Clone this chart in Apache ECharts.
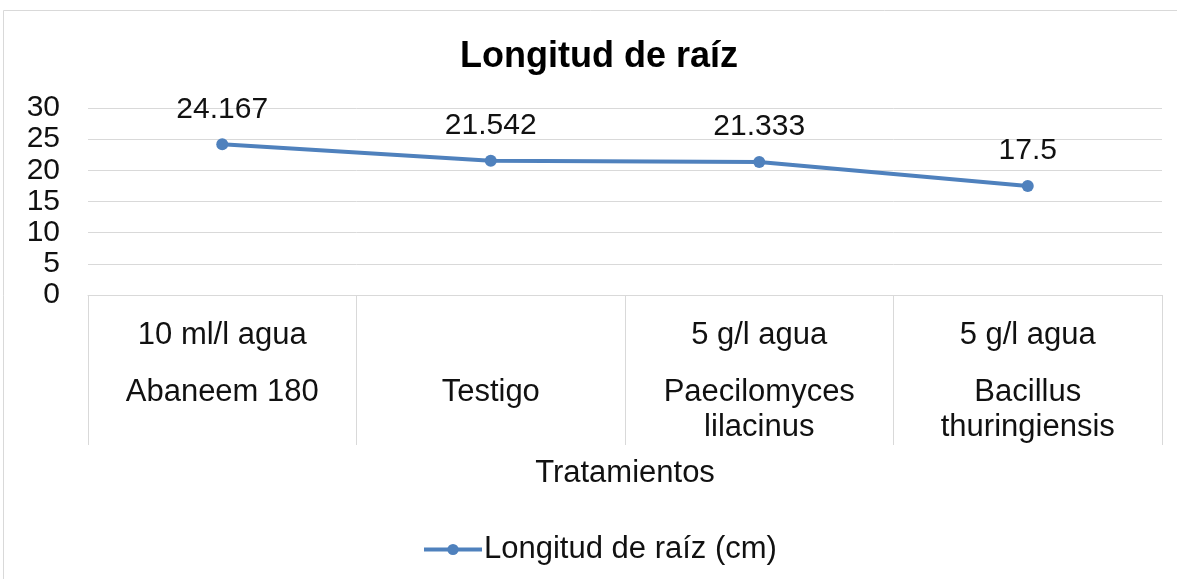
<!DOCTYPE html>
<html>
<head>
<meta charset="utf-8">
<script src="https://cdn.jsdelivr.net/npm/echarts@6/dist/echarts.min.js"></script>
<style>
  html, body { margin: 0; padding: 0; background: #fff; }
  #chart { width: 1177px; height: 579px; }
</style>
</head>
<body>
<div id="chart"></div>
<script>
// dosis (fila superior) y tratamiento (fila inferior)
var dosis = ['10 ml/l agua', '', '5 g/l agua', '5 g/l agua'];
var tratamientos = ['Abaneem 180', 'Testigo', 'Paecilomyces\nlilacinus', 'Bacillus\nthuringiensis'];
var longitud = [24.167, 21.542, 21.333, 17.5];

var myChart = echarts.init(document.getElementById('chart'));
var fuente = 'Liberation Sans, Arial, sans-serif';
var option = {
    backgroundColor: '#fff',
    textStyle: { fontFamily: fuente },
    title: {
        text: 'Longitud de raíz',
        left: 455,
        top: 34,
        textStyle: { fontSize: 36, fontWeight: 'bold', color: '#000', fontFamily: fuente }
    },
    graphic: [{
        type: 'rect',
        shape: { x: 3.5, y: 10.5, width: 1200, height: 600 },
        style: { fill: 'none', stroke: '#d9d9d9', lineWidth: 1 },
        silent: true
    }],
    legend: {
        bottom: 9,
        left: 417,
        itemWidth: 58,
        itemHeight: 14,
        itemGap: 4,
        lineStyle: { width: 4 },
        textStyle: { fontSize: 31, color: '#111', fontFamily: fuente, padding: [0, 0, 0, -3] },
        data: ['Longitud de raíz (cm)']
    },
    grid: { left: 88, right: 15, top: 108, bottom: 284 },
    xAxis: [{
        type: 'category',
        data: dosis,
        boundaryGap: true,
        axisLine: { lineStyle: { color: '#d9d9d9', width: 1 } },
        axisTick: { show: true, length: 150, inside: false, lineStyle: { color: '#d9d9d9', width: 1 } },
        axisLabel: { margin: 25, fontSize: 31, color: '#111', fontFamily: fuente },
        name: 'Tratamientos',
        nameLocation: 'middle',
        nameGap: 163,
        nameTextStyle: { fontSize: 31, color: '#111', fontFamily: fuente }
    }, {
        type: 'category',
        data: tratamientos,
        position: 'bottom',
        boundaryGap: true,
        axisLine: { show: false },
        axisTick: { show: false },
        axisLabel: { margin: 80, fontSize: 31, lineHeight: 35, color: '#111', fontFamily: fuente }
    }],
    yAxis: {
        type: 'value',
        min: 0,
        max: 30,
        interval: 5,
        axisLine: { show: false },
        axisTick: { show: false },
        splitLine: { lineStyle: { color: '#d9d9d9', width: 1 } },
        axisLabel: { margin: 28, fontSize: 30, color: '#111', fontFamily: fuente }
    },
    series: [{
        name: 'Longitud de raíz (cm)',
        type: 'line',
        xAxisIndex: 0,
        data: longitud,
        symbol: 'circle',
        symbolSize: 12,
        lineStyle: { color: '#4f81bd', width: 4 },
        itemStyle: { color: '#4f81bd' },
        label: {
            show: true,
            position: 'top',
            distance: 14,
            fontSize: 30,
            color: '#111',
            fontFamily: fuente
        }
    }]
};
myChart.setOption(option);
</script>
</body>
</html>
